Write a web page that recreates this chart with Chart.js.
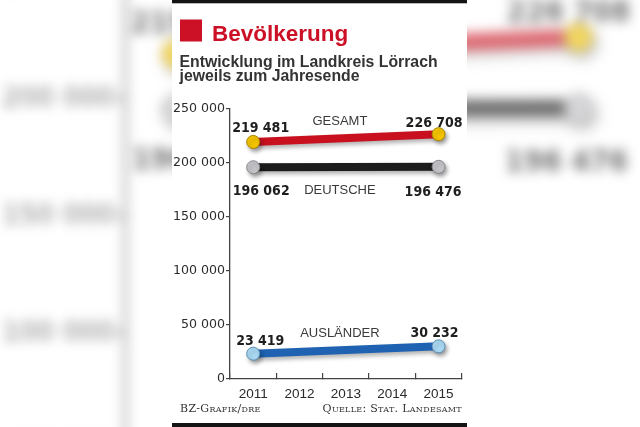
<!DOCTYPE html>
<html>
<head>
<meta charset="utf-8">
<script src="https://cdn.jsdelivr.net/npm/chart.js@4.4.0/dist/chart.umd.min.js"></script>
<style>
  html, body { margin: 0; padding: 0; background: #fff; }
  #bg { position: absolute; left: 0; top: 0; }
  #panel { position: absolute; left: 172px; top: 0; }
</style>
</head>
<body>
<canvas id="bg" width="640" height="427"></canvas>
<canvas id="panel" width="295" height="427"></canvas>
<script>
// Daten: Bevölkerung im Landkreis Lörrach, jeweils zum Jahresende
var years = ['2011', '2012', '2013', '2014', '2015'];
var gesamt = [219481, null, null, null, 226708];
var deutsche = [196062, null, null, null, 196476];
var auslaender = [23419, null, null, null, 30232];
var seriesNames = ['GESAMT', 'DEUTSCHE', 'AUSLÄNDER'];
var yTicks = [0, 50000, 100000, 150000, 200000, 250000];

var title = 'Bevölkerung';
var subtitle = ['Entwicklung im Landkreis Lörrach', 'jeweils zum Jahresende'];
var creditLeft = 'BZ-Grafik/dre';
var creditRight = 'Quelle: Stat. Landesamt';

function fmt(v) {
    return String(v).replace(/\B(?=(\d{3})+(?!\d))/g, ' ');
}

// Lage der Beschriftungen je Reihe (erste / letzte Zahl, Reihenname)
var labelPos = [
    { first: [-21, -9.5, 'left'], last: [24, -7, 'right'], name: -13 },
    { first: [-20.5, 28, 'left'], last: [23, 29.5, 'right'], name: 27 },
    { first: [-17, -8.7, 'left'], last: [20, -9.6, 'right'], name: -13 }
];

var panelDeco = {
    id: 'panelDeco',
    beforeDraw: function (chart) {
        var ctx = chart.ctx;
        var w = chart.width;
        ctx.save();
        ctx.fillStyle = '#fff';
        ctx.fillRect(0, 0, w, chart.height);
        ctx.fillStyle = '#141414';
        ctx.fillRect(0, 0, w, 3.3);
        ctx.fillRect(0, 423, w, 4);

        ctx.fillStyle = '#cc1126';
        ctx.fillRect(8, 19.5, 22, 22);
        ctx.font = 'bold 22.5px "Liberation Sans", Arial, sans-serif';
        ctx.textBaseline = 'alphabetic';
        ctx.textAlign = 'left';
        ctx.fillText(title, 40, 40.5);

        ctx.fillStyle = '#333';
        ctx.font = 'bold 15.8px "Liberation Sans", Arial, sans-serif';
        ctx.fillText(subtitle[0], 7.5, 67);
        ctx.fillText(subtitle[1], 7.5, 81);

        ctx.font = '11px "DejaVu Serif", serif';
        if ('fontVariantCaps' in ctx) ctx.fontVariantCaps = 'small-caps';
        if ('letterSpacing' in ctx) ctx.letterSpacing = '0.3px';
        ctx.fillText(creditLeft, 8, 412.3);
        ctx.textAlign = 'right';
        ctx.fillText(creditRight, 290, 412.3);
        ctx.restore();
    },
    beforeDatasetDraw: function (chart) {
        var ctx = chart.ctx;
        ctx.save();
        ctx.shadowColor = 'rgba(0,0,0,0.3)';
        ctx.shadowBlur = 4;
        ctx.shadowOffsetX = 2;
        ctx.shadowOffsetY = 3;
    },
    afterDatasetDraw: function (chart) {
        chart.ctx.restore();
    },
    afterDatasetsDraw: function (chart) {
        var ctx = chart.ctx;
        var xs = chart.scales.x, ys = chart.scales.y;
        ctx.save();
        chart.data.datasets.forEach(function (ds, i) {
            var meta = chart.getDatasetMeta(i);
            var p0 = meta.data[0], p1 = meta.data[ds.data.length - 1];
            var a = labelPos[i];
            ctx.fillStyle = '#1e1e1e';
            ctx.font = 'bold 14px "DejaVu Sans Condensed", "DejaVu Sans", sans-serif';
            ctx.textBaseline = 'alphabetic';
            ctx.textAlign = a.first[2];
            ctx.fillText(fmt(ds.data[0]), p0.x + a.first[0], p0.y + a.first[1]);
            ctx.textAlign = a.last[2];
            ctx.fillText(fmt(ds.data[ds.data.length - 1]), p1.x + a.last[0], p1.y + a.last[1]);

            var mid = (ds.data[0] + ds.data[ds.data.length - 1]) / 2;
            ctx.fillStyle = '#3a3a3a';
            ctx.font = '13px "Liberation Sans", Arial, sans-serif';
            ctx.textAlign = 'center';
            ctx.fillText(seriesNames[i], xs.getPixelForValue(2) - 6, ys.getPixelForValue(mid) + a.name);
        });
        ctx.restore();
    },
    afterRender: function (chart) {
        // unscharfer, vergrößerter Hintergrund
        var bg = document.getElementById('bg');
        var g = bg.getContext('2d');
        var s = bg.width / chart.width;
        g.save();
        g.fillStyle = '#fff';
        g.fillRect(0, 0, bg.width, bg.height);
        g.filter = 'blur(6px)';
        g.drawImage(chart.canvas, 0, -254, chart.width * s, chart.height * s);
        g.filter = 'none';
        g.fillStyle = 'rgba(255,255,255,0.38)';
        g.fillRect(0, 0, bg.width, bg.height);
        g.restore();
    }
};

var ctx = document.getElementById('panel').getContext('2d');
var chart = new Chart(ctx, {
    type: 'line',
    data: {
        labels: years,
        datasets: [{
            label: seriesNames[0],
            data: gesamt,
            borderColor: '#c8101e',
            backgroundColor: '#c8101e',
            pointBackgroundColor: '#f3c400',
            pointBorderColor: '#a88500',
            order: 0
        }, {
            label: seriesNames[1],
            data: deutsche,
            borderColor: '#1c1c1c',
            backgroundColor: '#1c1c1c',
            pointBackgroundColor: '#c4c4c8',
            pointBorderColor: '#8a8a8e',
            order: 1
        }, {
            label: seriesNames[2],
            data: auslaender,
            borderColor: '#1f62b2',
            backgroundColor: '#1f62b2',
            pointBackgroundColor: '#a9d8f2',
            pointBorderColor: '#5b8fb5',
            order: 2
        }]
    },
    options: {
        responsive: false,
        devicePixelRatio: 1,
        animation: false,
        spanGaps: true,
        layout: { autoPadding: false, padding: { left: 0, right: 4, top: 109, bottom: 0 } },
        elements: {
            line: { borderWidth: 8, tension: 0, borderCapStyle: 'round' },
            point: { radius: 6.5, borderWidth: 1, hoverRadius: 6.5 }
        },
        plugins: {
            legend: { display: false },
            tooltip: { enabled: false }
        },
        scales: {
            x: {
                offset: true,
                grid: {
                    offset: true,
                    drawOnChartArea: false,
                    tickLength: -6,
                    color: '#444',
                    lineWidth: 1.2
                },
                border: { color: '#444', width: 1.3 },
                ticks: {
                    padding: 13,
                    color: '#2a2a2a',
                    font: { family: '"Liberation Sans", Arial, sans-serif', size: 13.5 }
                },
                afterFit: function (scale) { scale.height = 48; }
            },
            y: {
                min: 0,
                max: 250000,
                afterBuildTicks: function (scale) {
                    scale.ticks = yTicks.map(function (v) { return { value: v }; });
                },
                grid: {
                    drawOnChartArea: false,
                    tickLength: 4,
                    color: '#444',
                    lineWidth: 1.2
                },
                border: { color: '#444', width: 1.3 },
                ticks: {
                    padding: 1,
                    color: '#2a2a2a',
                    font: { family: '"DejaVu Sans", sans-serif', size: 12.6 },
                    callback: function (v) { return fmt(v); }
                },
                afterFit: function (scale) { scale.width = 58; }
            }
        }
    },
    plugins: [panelDeco]
});
</script>
</body>
</html>
